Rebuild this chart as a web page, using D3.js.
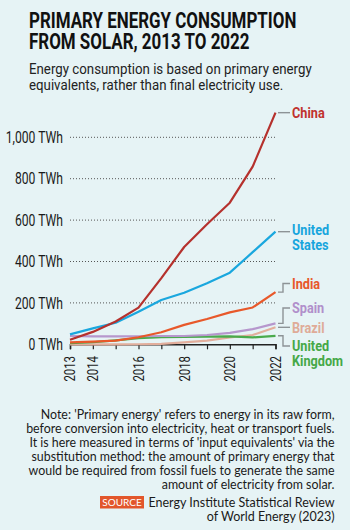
<!DOCTYPE html>
<html><head><meta charset="utf-8">
<script src="https://cdn.jsdelivr.net/npm/d3@7"></script>
<style>
html,body{margin:0;padding:0;background:#e6f3f5;}
svg{display:block;}
</style></head>
<body>
<svg id="c" width="350" height="530"></svg>
<script>
// ---- data ----
const years = [2013, 2014, 2015, 2016, 2017, 2018, 2019, 2020, 2021, 2022];
const china = [22, 60, 110, 177, 320, 470, 580, 684, 858, 1119];
const unitedStates = [48, 77, 104, 157, 214, 249, 295, 346, 445, 544];
const india = [9, 13, 18, 34, 58, 94, 122, 154, 178, 252];
const spain = [40, 38, 38, 39, 40, 40, 45, 55, 73, 101];
const brazil = [0.1, 0.1, 0.1, 0.2, 2, 9, 18, 33, 45, 82];
const unitedKingdom = [5, 10, 19, 30, 34, 36, 37, 38, 33, 41];
const yTicks = [0, 200, 400, 600, 800, 1000];
const xTickLabels = [2013, 2014, 2016, 2018, 2020, 2022];
const seriesNames = ["Brazil", "United Kingdom", "Spain", "India", "United States", "China"];
const seriesValues = [brazil, unitedKingdom, spain, india, unitedStates, china];

// ---- style / layout ----
const colors = {
  "China": "#b5312d", "United States": "#1aa7de", "India": "#e8582a",
  "Spain": "#b697cd", "Brazil": "#e2ae9c", "United Kingdom": "#4aaa4c"
};
const labelColors = {
  "China": "#c0322d", "United States": "#17a5dd", "India": "#e8582a",
  "Spain": "#b18fcb", "Brazil": "#dfab98", "United Kingdom": "#45a847"
};
const labelLayout = {
  "China": {lines: ["China"], ty: 112.7, lh: 15},
  "United States": {lines: ["United", "States"], ty: 230, lh: 15},
  "India": {lines: ["India"], ty: 283.5, lh: 15},
  "Spain": {lines: ["Spain"], ty: 308, lh: 15},
  "Brazil": {lines: ["Brazil"], ty: 327.5, lh: 15},
  "United Kingdom": {lines: ["United", "Kingdom"], ty: 346, lh: 14.5}
};

const svg = d3.select("#c");
const W = 350, H = 530;
svg.append("rect").attr("width", W).attr("height", H).attr("fill", "#e6f3f5");

const COND = "Roboto, 'DejaVu Sans', sans-serif";

// Title
const title = svg.append("g").attr("transform", "translate(29,0)");
[["PRIMARY ENERGY CONSUMPTION", 28], ["FROM SOLAR, 2013 TO 2022", 49]].forEach(([t, yy]) => {
  title.append("g").attr("transform", `translate(0,${yy}) scale(0.77,1)`)
    .append("text").attr("font-family", COND).attr("font-weight", 700)
    .attr("font-size", 22).attr("fill", "#111").text(t);
});
[["Energy consumption is based on primary energy", 74], ["equivalents, rather than final electricity use.", 90]].forEach(([t, yy]) => {
  title.append("g").attr("transform", `translate(0,${yy}) scale(0.885,1)`)
    .append("text").attr("font-family", COND).attr("font-weight", 400)
    .attr("font-size", 15).attr("fill", "#222").text(t);
});

// Scales
const x = d3.scaleLinear().domain([2013, 2022]).range([70, 275.5]);
const y = d3.scaleLinear().domain([0, 1000]).range([344.3, 137.3]);

// Gridlines
const grid = svg.append("g");
yTicks.filter(v => v > 0).forEach(v => {
  grid.append("line").attr("x1", 70).attr("x2", 276)
    .attr("y1", y(v)).attr("y2", y(v))
    .attr("stroke", "#555").attr("stroke-width", 1).attr("stroke-dasharray", "1,2");
});

// Y labels
const yl = svg.append("g");
yTicks.forEach(v => {
  yl.append("g").attr("transform", `translate(63,${y(v)}) scale(0.76,1)`)
    .append("text").attr("text-anchor", "end").attr("dy", "0.36em")
    .attr("font-family", COND).attr("font-size", 16).attr("fill", "#1a1a1a")
    .text(d3.format(",")(v) + " TWh");
});

// X axis
const xAxis = d3.axisBottom(x).tickValues(years).tickSize(5).tickFormat("");
const xg = svg.append("g").attr("transform", `translate(0,${y(0)})`).call(xAxis);
xg.select(".domain").attr("stroke", "#222").attr("stroke-width", 1.5);
xg.selectAll(".tick line").attr("stroke", "#222").attr("stroke-width", 1.2);
xTickLabels.forEach(yr => {
  svg.append("g").attr("transform", `translate(${x(yr)},356) rotate(-90) scale(0.76,1)`)
    .append("text").attr("text-anchor", "end").attr("dy", "0.36em")
    .attr("font-family", COND).attr("font-size", 15).attr("fill", "#1a1a1a").text(yr);
});

// Lines
const line = d3.line().x((d, i) => x(years[i])).y(d => y(d));
seriesNames.forEach((name, k) => {
  svg.append("path").datum(seriesValues[k]).attr("d", line)
    .attr("fill", "none").attr("stroke", colors[name]).attr("stroke-width", 2.2)
    .attr("stroke-linejoin", "round");
});

// Leaders + labels
seriesNames.forEach((name, k) => {
  const vals = seriesValues[k];
  const ex = x(2022) + 2.5, ey = y(vals[vals.length - 1]);
  const L = labelLayout[name];
  const mx = 283, tx = 290;
  let d;
  if (Math.abs(L.ty - ey) < 2) d = `M${ex},${ey}H${tx}`;
  else d = `M${ex},${ey}H${mx}V${L.ty}H${tx}`;
  svg.append("path").attr("d", d).attr("fill", "none").attr("stroke", "#8d9396").attr("stroke-width", 1.4);
  L.lines.forEach((t, i) => {
    svg.append("g").attr("transform", `translate(292,${L.ty + 5.4 + i * L.lh}) scale(0.82,1)`)
      .append("text").attr("font-family", COND).attr("font-weight", 700)
      .attr("font-size", 15.5).attr("fill", labelColors[name]).text(t);
  });
});

// Note
const noteLines = [
  "Note: 'Primary energy' refers to energy in its raw form,",
  "before conversion into electricity, heat or transport fuels.",
  "It is here measured in terms of 'input equivalents' via the",
  "substitution method: the amount of primary energy that",
  "would be required from fossil fuels to generate the same",
  "amount of electricity from solar."
];
noteLines.forEach((t, i) => {
  svg.append("text").attr("x", 334.5).attr("y", 418.5 + i * 14).attr("text-anchor", "end")
    .attr("font-family", "Lato, 'Open Sans', sans-serif").attr("font-size", 12.4)
    .attr("fill", "#1a1a1a").text(t);
});
// Source
svg.append("rect").attr("x", 100).attr("y", 496).attr("width", 44).attr("height", 12.5).attr("fill", "#e2562b");
svg.append("text").attr("x", 122).attr("y", 505.5).attr("text-anchor", "middle")
  .attr("font-family", "Lato, sans-serif").attr("font-size", 10).attr("fill", "#fff").text("SOURCE");
svg.append("text").attr("x", 334.5).attr("y", 507).attr("text-anchor", "end")
  .attr("font-family", "Lato, sans-serif").attr("font-size", 12.5).attr("fill", "#1a1a1a")
  .text("Energy Institute Statistical Review");
svg.append("text").attr("x", 334.5).attr("y", 521).attr("text-anchor", "end")
  .attr("font-family", "Lato, sans-serif").attr("font-size", 12.5).attr("fill", "#1a1a1a")
  .text("of World Energy (2023)");
</script>
</body></html>
